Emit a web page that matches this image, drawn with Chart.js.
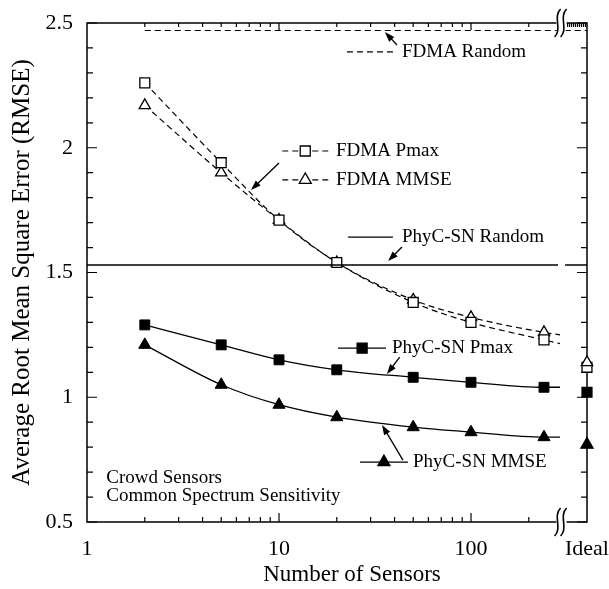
<!DOCTYPE html>
<html lang="en">
<head>
<meta charset="UTF-8">
<title>Average RMSE vs Number of Sensors</title>
<script src="https://cdn.jsdelivr.net/npm/chart.js"></script>
<style>
  html, body { margin: 0; padding: 0; background: #fff; }
  #wrap { width: 609px; height: 589px; }
</style>
</head>
<body>
<div id="wrap"><canvas id="rmseChart"></canvas></div>
<script>
// sensor counts on the log axis
const sensors = [2, 5, 10, 20, 50, 100, 240];
const curveEnd = 291;   // curves run a little past the last marker
const breakAt = 300;    // where the x axis is broken
const idealX = 402;     // the "Ideal" column sits on the right edge

const fdmaPmax = [2.26, 1.94, 1.71, 1.54, 1.38, 1.30, 1.23];
const fdmaMmse = [2.17, 1.90, 1.71, 1.54, 1.39, 1.32, 1.26];
const phyPmax = [1.29, 1.21, 1.15, 1.11, 1.08, 1.06, 1.04];
const phyMmse = [1.21, 1.05, 0.97, 0.92, 0.88, 0.86, 0.84];
const curveEndVals = [1.215, 1.25, 1.04, 0.84];   // FDMA Pmax, FDMA MMSE, PhyC Pmax, PhyC MMSE
const idealVals = [1.12, 1.14, 1.02, 0.81];       // same order
const fdmaRandom = 2.47;
const phyRandom = 1.53;

const xTicks = [1, 10, 100, idealX];
const xTickLabels = ['1', '10', '100', 'Ideal'];
const yTicks = [0.5, 1, 1.5, 2, 2.5];

const serif = '"Liberation Serif", "Times New Roman", serif';
Chart.defaults.font.family = serif;
Chart.defaults.color = '#000';

function series(vals, end) {
    return sensors.map((x, i) => ({ x: x, y: vals[i] })).concat([{ x: curveEnd, y: end }]);
}
const markerR = sensors.map(() => 7).concat([0]);
const triR = sensors.map(() => 7).concat([0]);

// small marker shapes for the key entries
function drawMarker(ctx, style, x, y, filled) {
    ctx.save();
    ctx.beginPath();
    if (style === 'rect') {
        ctx.rect(x - 5, y - 5, 10, 10);
    } else {
        ctx.moveTo(x, y - 7);
        ctx.lineTo(x + 6, y + 3.5);
        ctx.lineTo(x - 6, y + 3.5);
        ctx.closePath();
    }
    ctx.fillStyle = filled ? '#000' : '#fff';
    ctx.fill();
    ctx.lineWidth = 1.3;
    ctx.strokeStyle = '#000';
    ctx.stroke();
    ctx.restore();
}

function drawArrow(ctx, x1, y1, x2, y2) {
    const a = Math.atan2(y2 - y1, x2 - x1);
    ctx.beginPath();
    ctx.moveTo(x1, y1);
    ctx.lineTo(x2 - Math.cos(a) * 6, y2 - Math.sin(a) * 6);
    ctx.stroke();
    ctx.beginPath();
    ctx.moveTo(x2, y2);
    ctx.lineTo(x2 - Math.cos(a) * 10 + Math.sin(a) * 3.5, y2 - Math.sin(a) * 10 - Math.cos(a) * 3.5);
    ctx.lineTo(x2 - Math.cos(a) * 10 - Math.sin(a) * 3.5, y2 - Math.sin(a) * 10 + Math.cos(a) * 3.5);
    ctx.closePath();
    ctx.fill();
}

// labels with their little key lines, placed in data units
const notes = [
    { text: 'FDMA Random', at: [43.7, 2.384], key: [22.6, 40.2], dashed: true, arrow: [41.2, 2.412, 35.6, 2.464] },
    { text: 'FDMA Pmax', at: [19.8, 1.987], key: [10.4, 18.9], dashed: true, marker: ['rect', 13.7, false], arrow: [10.0, 1.939, 7.15, 1.831] },
    { text: 'FDMA MMSE', at: [19.8, 1.871], key: [10.4, 18.9], dashed: true, marker: ['tri', 13.7, false] },
    { text: 'PhyC-SN Random', at: [43.7, 1.642], key: [22.9, 39.2], dashed: false, arrow: [43.7, 1.602, 37.0, 1.546] },
    { text: 'PhyC-SN Pmax', at: [38.8, 1.197], key: [20.3, 36.1], dashed: false, marker: ['rect', 27.1, true], arrow: [42.5, 1.161, 36.5, 1.093] },
    { text: 'PhyC-SN MMSE', at: [49.9, 0.740], key: [26.4, 47.0], dashed: false, marker: ['tri', 35.2, true], arrow: [44.2, 0.748, 34.4, 0.889] }
];

// axis frame with inward ticks and the axis break
const framePlugin = {
    id: 'frame',
    beforeDatasetsDraw(chart) {
        const ctx = chart.ctx;
        const xs = chart.scales.x, ys = chart.scales.y;
        const { left, right, top, bottom } = chart.chartArea;
        const bx = xs.getPixelForValue(breakAt);
        ctx.save();
        ctx.strokeStyle = '#000';
        ctx.lineWidth = 1.5;
        ctx.beginPath();
        ctx.moveTo(bx - 6, top); ctx.lineTo(left, top); ctx.lineTo(left, bottom); ctx.lineTo(bx - 6, bottom);
        ctx.moveTo(bx + 4, bottom); ctx.lineTo(right, bottom); ctx.lineTo(right, top); ctx.lineTo(bx + 4, top);
        ctx.stroke();

        ctx.lineWidth = 1.2;
        ctx.beginPath();
        // y ticks every 0.1 on both sides
        for (let i = 5; i <= 25; i++) {
            const py = ys.getPixelForValue(i / 10);
            const len = i % 5 === 0 ? 10 : 6;
            ctx.moveTo(left, py); ctx.lineTo(left + len, py);
            ctx.moveTo(right, py); ctx.lineTo(right - len, py);
        }
        // log ticks top and bottom
        [2, 3, 4, 5, 6, 7, 8, 9, 10, 20, 30, 40, 50, 60, 70, 80, 90, 100, 200].forEach(v => {
            const px = xs.getPixelForValue(v);
            const major = v === 10 || v === 100;
            ctx.moveTo(px, bottom); ctx.lineTo(px, bottom - (major ? 9 : 5));
            ctx.moveTo(px, top); ctx.lineTo(px, top + (major ? 7 : 4));
        });
        // dense hatch on the top edge past the break
        for (let px = bx + 5; px < right; px += 2) {
            ctx.moveTo(px, top); ctx.lineTo(px, top + 4);
        }
        ctx.stroke();
        ctx.restore();
    },
    afterDatasetsDraw(chart) {
        const ctx = chart.ctx;
        const xs = chart.scales.x, ys = chart.scales.y;
        const { left, right, top, bottom } = chart.chartArea;
        const X = v => xs.getPixelForValue(v);
        const Y = v => ys.getPixelForValue(v);
        const bx = X(breakAt) - 2;
        ctx.save();
        // break marks "((" on top and bottom edges
        [top, bottom].forEach(cy => {
            ctx.fillStyle = '#fff';
            ctx.fillRect(bx - 4, cy - 10, 9, 20);
            ctx.strokeStyle = '#000';
            ctx.lineWidth = 1.6;
            [-3, 3].forEach(dx => {
                ctx.beginPath();
                ctx.moveTo(bx + dx + 3, cy - 14);
                ctx.bezierCurveTo(bx + dx - 5, cy - 6, bx + dx + 5, cy + 6, bx + dx - 3, cy + 14);
                ctx.stroke();
            });
        });

        ctx.fillStyle = '#000';
        ctx.strokeStyle = '#000';
        ctx.font = '19px ' + serif;
        ctx.textBaseline = 'middle';
        notes.forEach(n => {
            const ky = Y(n.at[1]);
            ctx.lineWidth = 1.2;
            ctx.setLineDash(n.dashed ? [6, 4] : []);
            ctx.beginPath();
            ctx.moveTo(X(n.key[0]), ky);
            ctx.lineTo(X(n.key[1]), ky);
            ctx.stroke();
            ctx.setLineDash([]);
            if (n.marker) drawMarker(ctx, n.marker[0], X(n.marker[1]), ky, n.marker[2]);
            ctx.fillStyle = '#000';
            ctx.textAlign = 'left';
            ctx.fillText(n.text, X(n.at[0]), ky);
            if (n.arrow) {
                ctx.lineWidth = 1.3;
                drawArrow(ctx, X(n.arrow[0]), Y(n.arrow[1]), X(n.arrow[2]), Y(n.arrow[3]));
            }
        });
        ctx.fillText('Crowd Sensors', X(1.26), Y(0.676));
        ctx.fillText('Common Spectrum Sensitivity', X(1.26), Y(0.604));

        // x axis title, sitting a bit right of the plot centre like the original
        ctx.font = '23px ' + serif;
        ctx.textAlign = 'center';
        ctx.fillText('Number of Sensors', (left + right) / 2 + 15, 575);
        ctx.restore();
    }
};

const ctx = document.getElementById('rmseChart').getContext('2d');
new Chart(ctx, {
    type: 'line',
    data: {
        datasets: [
            {
                data: [{ x: 2, y: fdmaRandom }, { x: idealX, y: fdmaRandom }],
                borderColor: '#000', borderWidth: 1.2, borderDash: [6, 4], pointRadius: 0
            },
            {
                data: [{ x: 1, y: phyRandom }, { x: 284, y: phyRandom }, { x: 296, y: null },
                       { x: 309, y: phyRandom }, { x: idealX, y: phyRandom }],
                borderColor: '#000', borderWidth: 1.4, pointRadius: 0, spanGaps: false
            },
            {
                data: series(fdmaPmax, curveEndVals[0]),
                borderColor: '#000', borderWidth: 1.2, borderDash: [6, 4],
                cubicInterpolationMode: 'monotone',
                pointStyle: 'rect', pointRadius: markerR,
                pointBackgroundColor: '#fff', pointBorderColor: '#000', pointBorderWidth: 1.3
            },
            {
                data: series(fdmaMmse, curveEndVals[1]),
                borderColor: '#000', borderWidth: 1.2, borderDash: [6, 4],
                cubicInterpolationMode: 'monotone',
                pointStyle: 'triangle', pointRadius: sensors.map(() => 6.5).concat([0]),
                pointBackgroundColor: '#fff', pointBorderColor: '#000', pointBorderWidth: 1.3
            },
            {
                data: series(phyPmax, curveEndVals[2]),
                borderColor: '#000', borderWidth: 1.3,
                cubicInterpolationMode: 'monotone',
                pointStyle: 'rect', pointRadius: markerR,
                pointBackgroundColor: '#000', pointBorderColor: '#000', pointBorderWidth: 1
            },
            {
                data: series(phyMmse, curveEndVals[3]),
                borderColor: '#000', borderWidth: 1.3,
                cubicInterpolationMode: 'monotone',
                pointStyle: 'triangle', pointRadius: triR,
                pointBackgroundColor: '#000', pointBorderColor: '#000', pointBorderWidth: 1
            },
            {
                // values in the "Ideal" column
                data: idealVals.map(v => ({ x: idealX, y: v })),
                showLine: false,
                pointStyle: ['rect', 'triangle', 'rect', 'triangle'],
                pointRadius: [7, 6.5, 7, 7],
                pointBackgroundColor: ['#fff', '#fff', '#000', '#000'],
                pointBorderColor: '#000', pointBorderWidth: 1.3
            }
        ].map(d => Object.assign({ clip: false, fill: false }, d))
    },
    options: {
        responsive: true,
        maintainAspectRatio: false,
        animation: false,
        layout: { padding: { top: 23, right: 22, left: 0, bottom: 0 } },
        plugins: { legend: { display: false }, tooltip: { enabled: false } },
        scales: {
            x: {
                type: 'logarithmic',
                min: 1,
                max: idealX,
                grid: { display: false, drawTicks: false },
                border: { display: false },
                afterBuildTicks: s => { s.ticks = xTicks.map(v => ({ value: v })); },
                afterFit: s => { s.height = 67; s.paddingLeft = 0; s.paddingRight = 0; },
                ticks: {
                    autoSkip: false, maxRotation: 0, padding: 14,
                    font: { size: 22 }, color: '#000',
                    callback: v => { const i = xTicks.indexOf(v); return i >= 0 ? xTickLabels[i] : ''; }
                }
            },
            y: {
                min: 0.5,
                max: 2.5,
                grid: { display: false, drawTicks: false },
                border: { display: false },
                afterBuildTicks: s => { s.ticks = yTicks.map(v => ({ value: v })); },
                afterFit: s => { s.width = 87; s.paddingTop = 0; s.paddingBottom = 0; },
                ticks: { padding: 14, font: { size: 22 }, color: '#000', callback: v => String(v) },
                title: { display: true, text: 'Average Root Mean Square Error (RMSE)', font: { size: 25 }, color: '#000', padding: { top: 7, bottom: 0 } }
            }
        }
    },
    plugins: [framePlugin]
});
</script>
</body>
</html>
